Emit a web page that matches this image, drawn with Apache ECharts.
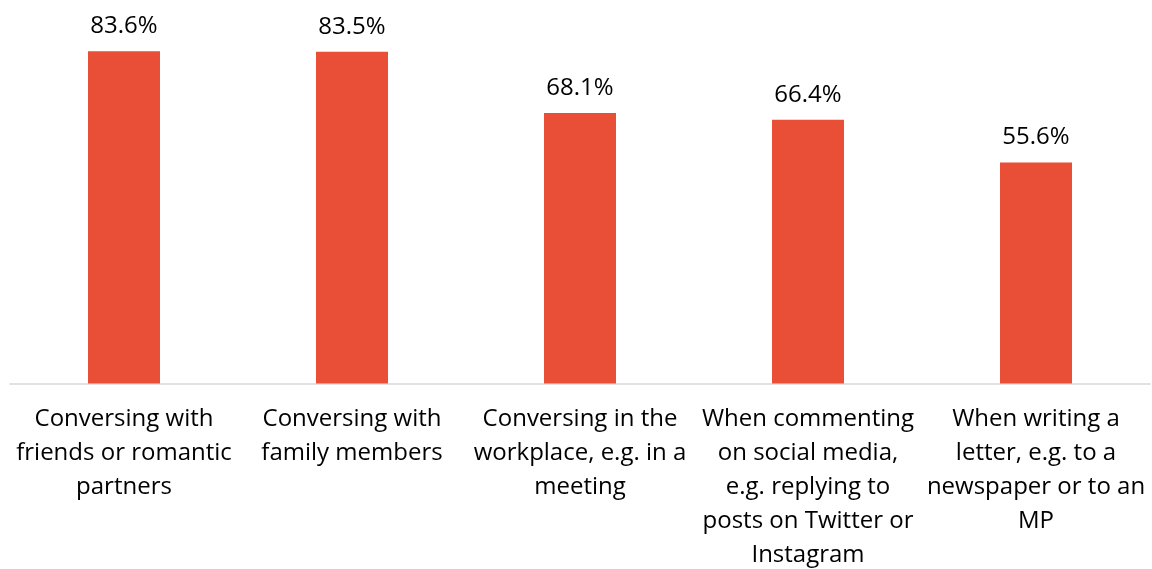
<!DOCTYPE html>
<html>
<head>
<meta charset="utf-8">
<script src="https://cdn.jsdelivr.net/npm/echarts@6/dist/echarts.min.js"></script>
<style>
  html, body { margin: 0; padding: 0; background: #ffffff; }
  #chart { width: 1152px; height: 569px; }
</style>
</head>
<body>
<div id="chart"></div>
<script>
// Situations where respondents feel they must watch what they say
const categories = [
  'Conversing with\nfriends or romantic\npartners',
  'Conversing with\nfamily members',
  'Conversing in the\nworkplace, e.g. in a\nmeeting',
  'When commenting\non social media,\ne.g. replying to\nposts on Twitter or\nInstagram',
  'When writing a\nletter, e.g. to a\nnewspaper or to an\nMP'
];
const shares = [83.6, 83.5, 68.1, 66.4, 55.6];

const FONT = 'Open Sans';
const chart = echarts.init(document.getElementById('chart'), null, { renderer: 'canvas' });

chart.setOption({
  animation: false,
  backgroundColor: '#ffffff',
  grid: {
    left: 10, right: 2, top: 18, bottom: 185.5,
    containLabel: false,
    outerBoundsMode: 'none'
  },
  xAxis: {
    type: 'category',
    data: categories,
    axisLine: { show: true, lineStyle: { color: '#d9d9d9', width: 1.5 } },
    axisTick: { show: false },
    axisLabel: {
      interval: 0,
      margin: 19,
      color: '#000000',
      fontFamily: FONT,
      fontSize: 24,
      lineHeight: 34,
      align: 'center'
    }
  },
  yAxis: {
    type: 'value',
    min: 0,
    max: 92,
    show: false,
    splitLine: { show: false }
  },
  series: [{
    type: 'bar',
    data: shares,
    barWidth: 72,
    itemStyle: { color: '#e94e36' },
    label: {
      show: true,
      position: 'top',
      distance: 13,
      color: '#000000',
      fontFamily: FONT,
      fontSize: 24,
      formatter: p => p.value.toFixed(1) + '%'
    }
  }]
});
</script>
</body>
</html>
